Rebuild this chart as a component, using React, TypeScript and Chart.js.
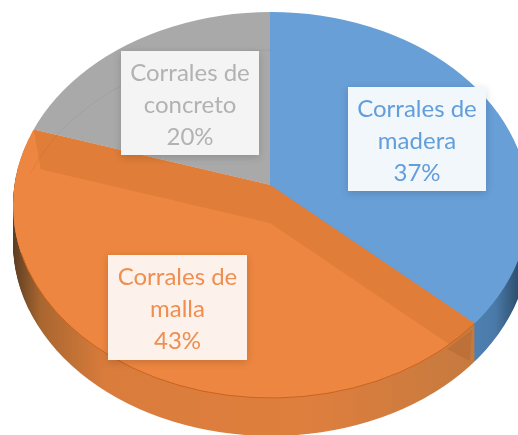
import React, { useEffect, useRef } from "react";
import { Chart, registerables } from "chart.js";

Chart.register(...registerables);

const categories = ["Corrales de madera", "Corrales de malla", "Corrales de concreto"];
const values = [37, 43, 20];
const labelLines = [["Corrales de", "madera", "37%"], ["Corrales de", "malla", "43%"], ["Corrales de", "concreto", "20%"]];
const sliceColors = ["#689fd7", "#ed8640", "#a9a9a9"];
const textColors = ["#629edb", "#ee8f50", "#b2b2b2"];
const boxColors = ["#f2f7fc", "#fdf1eb", "#f4f4f4"];
const boxes = [[348, 87, 138, 104], [108, 255, 139, 105], [121, 51, 138, 104]];

// apex of the slices, and the outline ellipse (a perspective view: the apex sits above the ellipse centre)
const AX = 270, AY = 185, SX = 340, SY = 245;
const CX = 271, CY = 205, RX = 258, RY = 193, DEPTH = 38;

function outline(ctx: any, dy: number) {
  ctx.beginPath();
  ctx.ellipse(CX, CY + dy, RX, RY, 0, 0, Math.PI * 2);
}

function paintArc(ctx: any, el: any, dy: number, fill: any) {
  const r = el.outerRadius;
  ctx.save();
  ctx.translate(AX, AY + dy);
  ctx.scale(SX / r, SY / r);
  ctx.translate(-el.x, -el.y);
  const saved = el.options;
  const color = typeof fill === "function" ? fill(ctx, el) : fill;
  el.options = { ...saved, backgroundColor: color, borderColor: color, borderWidth: 0 };
  el.draw(ctx);
  el.options = saved;
  ctx.restore();
}

function pageGradient(stops: [number, string][]) {
  return (ctx: any, el: any) => {
    const k = el.outerRadius / SX;
    const a = stops[0][0], b = stops[stops.length - 1][0];
    const g = ctx.createLinearGradient(el.x + (a - AX) * k, 0, el.x + (b - AX) * k, 0);
    stops.forEach(([p, c]) => g.addColorStop((p - a) / (b - a), c));
    return g;
  };
}

const piePlugin = {
  id: "tiltedPie",
  beforeDatasetsDraw(chart: any) {
    const ctx = chart.ctx;
    const arcs = chart.getDatasetMeta(0).data;
    const [blue, orange] = arcs;
    const orangeWall = pageGradient([[14, "#5e3f22"], [40, "#a8662f"], [105, "#d97c3c"], [300, "#df7f3e"], [470, "#c77a3e"]]);
    const blueWall = pageGradient([[465, "#4f83b5"], [495, "#4a7aa8"], [518, "#2f4f6e"]]);

    // side wall: the slices swept down by the depth
    for (let dy = DEPTH; dy >= 1; dy--) {
      ctx.save();
      outline(ctx, dy);
      ctx.clip();
      paintArc(ctx, blue, dy, blueWall);
      paintArc(ctx, orange, dy, orangeWall);
      ctx.restore();
    }

    // top surface
    ctx.save();
    outline(ctx, 0);
    ctx.clip();
    arcs.forEach((el: any, i: number) => paintArc(ctx, el, 0, sliceColors[i]));

    // darker cut-face band of the orange slice
    ctx.save();
    ctx.beginPath();
    ctx.moveTo(33, 125);
    ctx.lineTo(41, 171);
    ctx.lineTo(13, 243);
    ctx.lineTo(0, 440);
    ctx.lineTo(518, 440);
    ctx.lineTo(518, 100);
    ctx.closePath();
    ctx.clip();
    paintArc(ctx, orange, 0, "#df7d39");
    ctx.restore();

    // the base of the slice seen through the top
    ctx.save();
    outline(ctx, DEPTH);
    ctx.clip();
    paintArc(ctx, orange, DEPTH, sliceColors[1]);
    ctx.restore();

    // faint far rim of the base, seen through the grey
    ctx.strokeStyle = "rgba(0,0,0,0.05)";
    ctx.lineWidth = 1;
    ctx.beginPath();
    ctx.ellipse(CX, CY + DEPTH, RX, RY, 0, Math.PI * 1.12, Math.PI * 1.5);
    ctx.stroke();
    ctx.restore();

    // overlap corner on the wall and front rim line
    ctx.fillStyle = "#bd7037";
    ctx.beginPath();
    ctx.moveTo(447, 349);
    ctx.lineTo(472, 330);
    ctx.lineTo(470, 361);
    ctx.closePath();
    ctx.fill();
    ctx.strokeStyle = "rgba(190,90,25,0.75)";
    ctx.lineWidth = 1;
    ctx.beginPath();
    ctx.ellipse(CX, CY, RX, RY, 0, Math.PI * 0.21, Math.PI * 0.92);
    ctx.stroke();
    return false;
  },
  afterDraw(chart: any) {
    const ctx = chart.ctx;
    labelLines.forEach((lines, i) => {
      const [x, y, w, h] = boxes[i];
      ctx.save();
      ctx.shadowColor = "rgba(0,0,0,0.16)";
      ctx.shadowBlur = 8;
      ctx.shadowOffsetY = 2;
      ctx.fillStyle = boxColors[i];
      ctx.fillRect(x, y, w, h);
      ctx.restore();
      ctx.save();
      ctx.fillStyle = textColors[i];
      ctx.font = "24px Lato";
      ctx.textAlign = "center";
      ctx.textBaseline = "middle";
      lines.forEach((t, j) => ctx.fillText(t, x + w / 2, y + 22 + j * 32));
      ctx.restore();
    });
  },
};

export default function App() {
  const ref = useRef<HTMLCanvasElement>(null);
  useEffect(() => {
    const chart = new Chart(ref.current!, {
      type: "pie",
      data: {
        labels: categories,
        datasets: [{ data: values, backgroundColor: sliceColors, borderWidth: 0 }],
      },
      options: {
        animation: false,
        responsive: false,
        plugins: { legend: { display: false }, tooltip: { enabled: false } },
      },
      plugins: [piePlugin],
    } as any);
    return () => chart.destroy();
  }, []);
  return (
    <canvas
      ref={ref}
      width={518}
      height={435}
      style={{ position: "fixed", left: 0, top: 0, display: "block", filter: "blur(0.7px)" }}
    />
  );
}
